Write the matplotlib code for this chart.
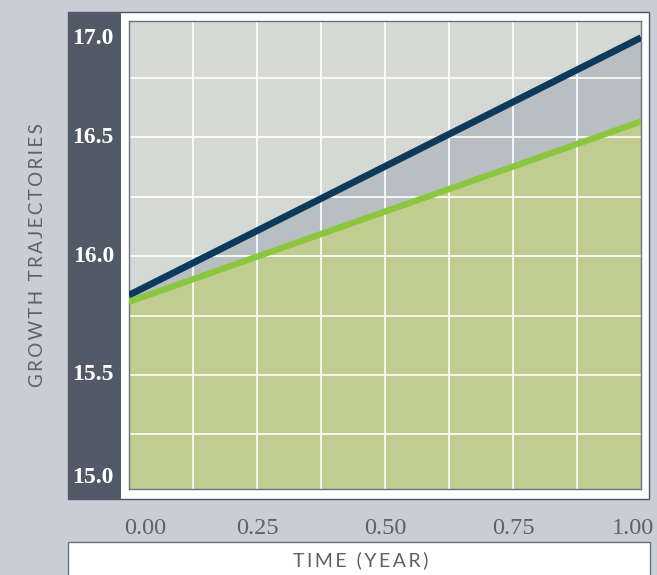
import numpy as np
import matplotlib
matplotlib.use('Agg')
import matplotlib.pyplot as plt
from matplotlib.patches import Rectangle

# data
time = [0.0, 0.25, 0.5, 0.75, 1.0]
upper = [15.836, 16.107, 16.378, 16.649, 16.92]   # dark blue trajectory
lower = [15.808, 15.998, 16.188, 16.377, 16.567]  # green trajectory
x_ticks = [0.0, 0.25, 0.5, 0.75, 1.0]
x_labels = ['0.00', '0.25', '0.50', '0.75', '1.00']
y_ticks = [15.0, 15.5, 16.0, 16.5, 17.0]
y_labels = ['15.0', '15.5', '16.0', '16.5', '17.0']

W, H = 657, 575
bg = '#c9cdd5'
panel = '#525a67'
textgray = '#5a6270'


def fx(px):
    return px / W


def fy(py):
    return 1 - py / H


def spaced(s):
    return '\u2009'.join(s)


fig = plt.figure(figsize=(W / 100, H / 100), dpi=100, facecolor=bg)

# outer white frame with the dark label panel
fig.patches.append(Rectangle((fx(68), fy(499)), fx(649) - fx(68), fy(12) - fy(499),
                             transform=fig.transFigure, facecolor='white',
                             edgecolor='#4e5664', lw=1, zorder=-2))
fig.patches.append(Rectangle((fx(68), fy(499)), fx(121) - fx(68), fy(12) - fy(499),
                             transform=fig.transFigure, facecolor=panel,
                             edgecolor='none', zorder=-1))
# bottom box for the x label
fig.patches.append(Rectangle((fx(68), fy(585)), fx(650) - fx(68), fy(542) - fy(585),
                             transform=fig.transFigure, facecolor='white',
                             edgecolor='#6b7280', lw=1, zorder=-2))

ax = fig.add_axes([fx(129), fy(489), fx(641) - fx(129), fy(21) - fy(489)])
ax.set_zorder(2)
ax.set_facecolor('#d6d8d5')
ymin, ymax = 15.02, 16.99
ax.set_xlim(0, 1)
ax.set_ylim(ymin, ymax)

ax.fill_between(time, lower, upper, color='#b9bec3', lw=0, zorder=1)
ax.fill_between(time, ymin, lower, color='#c1cd90', lw=0, zorder=1)

for v in np.arange(0.125, 1.0, 0.125):
    ax.axvline(v, color='white', lw=1.2, zorder=2)
for v in np.arange(15.25, 17.0, 0.25):
    ax.axhline(v, color='white', lw=1.2, zorder=2)

ax.plot(time, upper, color='#0d3a5c', lw=4.9, zorder=3, solid_capstyle='butt')
ax.plot(time, lower, color='#8cc63f', lw=4.5, zorder=3, solid_capstyle='butt')

ax.set_xticks([])
ax.set_yticks([])
for s in ax.spines.values():
    s.set_color('#6b7280')
    s.set_linewidth(1)

# y tick labels inside the dark panel, kept inside the panel at the ends
ppu = 468 / (ymax - ymin)
for v, lab in zip(y_ticks, y_labels):
    yy = min(max(v, ymin + 12 / ppu), ymax - 17 / ppu)
    ax.text(-15 / 512, yy, lab, transform=ax.get_yaxis_transform(),
            ha='right', va='center', color='white', fontsize=17,
            family='Liberation Serif', fontweight='bold', clip_on=False)

# x tick labels below the frame
for v, lab in zip(x_ticks, x_labels):
    xx = min(max(v, 16.5 / 512), 1 - 8 / 512)
    ax.text(xx, -39 / 468, lab, transform=ax.transAxes, ha='center', va='center',
            color=textgray, fontsize=17.5, family='Liberation Serif', clip_on=False)

fig.text(fx(38), fy(255), spaced('GROWTH TRAJECTORIES'), rotation=90,
         ha='center', va='center', color=textgray, fontsize=13.5,
         family=['Lato', 'DejaVu Sans'])
fig.text(fx(361), fy(560), spaced('TIME (YEAR)'), ha='center', va='center',
         color=textgray, fontsize=14, family=['Lato', 'DejaVu Sans'])

fig.savefig('out.png', dpi=100, facecolor=bg)
